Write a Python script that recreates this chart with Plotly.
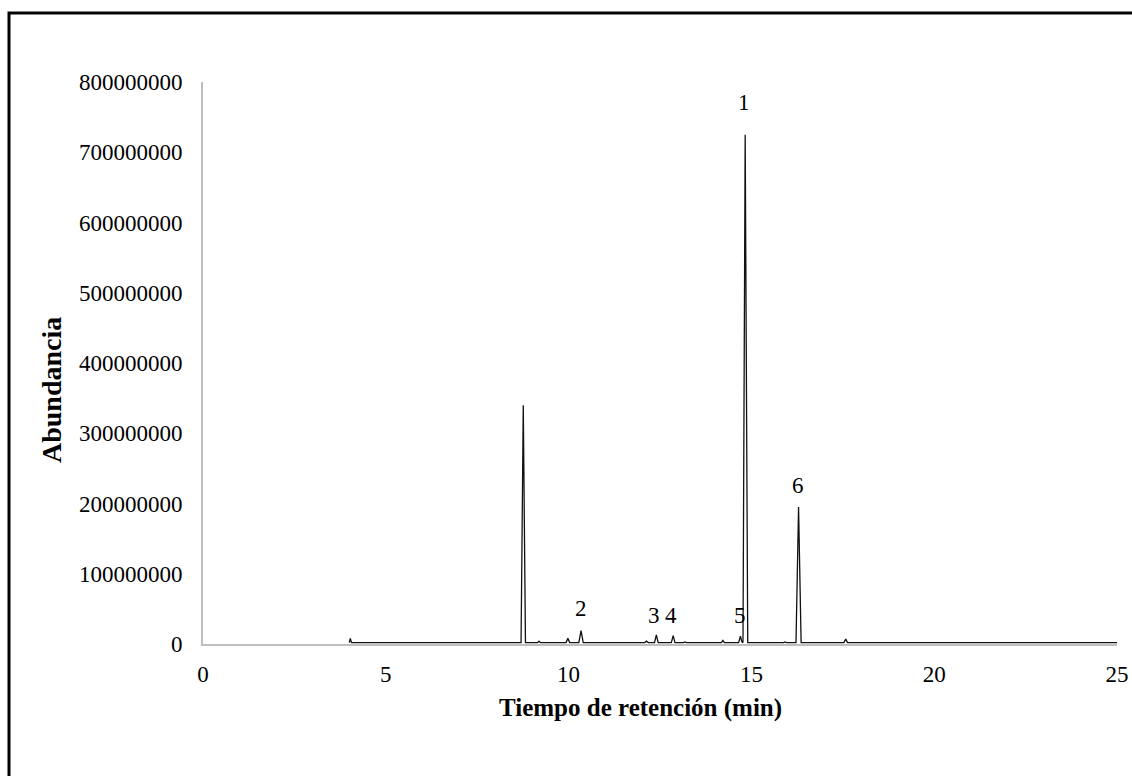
import plotly.graph_objects as go

# Retention time (min) and abundance of the chromatogram trace
tiempo = [4.00, 4.03, 4.06, 4.10, 8.70, 8.76, 8.82, 9.15, 9.19, 9.23,
          9.93, 9.98, 10.03, 10.28, 10.34, 10.40, 12.08, 12.13, 12.18,
          12.35, 12.40, 12.45, 12.81, 12.86, 12.91, 13.14, 13.18, 13.22,
          14.18, 14.22, 14.26, 14.65, 14.70, 14.74, 14.77, 14.83, 14.90,
          15.88, 15.92, 15.96, 16.22, 16.29, 16.36, 17.53, 17.58, 17.63,
          18.30, 18.34, 18.38, 22.35, 22.39, 22.43, 23.13, 23.17, 23.21, 25.00]
abundancia = [2e6, 8e6, 2e6, 2e6, 2e6, 340e6, 2e6, 2e6, 4e6, 2e6,
              2e6, 8e6, 2e6, 2e6, 19e6, 2e6, 2e6, 4e6, 2e6,
              2e6, 13e6, 2e6, 2e6, 12e6, 2e6, 2e6, 3e6, 2e6,
              2e6, 5e6, 2e6, 2e6, 11e6, 3e6, 2e6, 725e6, 2e6,
              2e6, 3e6, 2e6, 2e6, 195e6, 2e6, 2e6, 7e6, 2e6,
              2e6, 3e6, 2e6, 2e6, 3e6, 2e6, 2e6, 3e6, 2e6, 2e6]

# Peak labels
etiquetas = ["1", "2", "3", "4", "5", "6"]
etiqueta_x = [14.80, 10.34, 12.34, 12.80, 14.69, 16.27]
etiqueta_y = [771e6, 50e6, 41e6, 41e6, 41e6, 225e6]

x_ticks = [0, 5, 10, 15, 20, 25]
y_ticks = [0, 100e6, 200e6, 300e6, 400e6, 500e6, 600e6, 700e6, 800e6]

FONT = "Liberation Serif"

fig = go.Figure()
fig.add_trace(go.Scatter(x=tiempo, y=abundancia, mode="lines",
                         line=dict(color="#111111", width=1.3),
                         hoverinfo="skip", showlegend=False))

for t, xx, yy in zip(etiquetas, etiqueta_x, etiqueta_y):
    fig.add_annotation(x=xx, y=yy, text=t, showarrow=False,
                       xanchor="center", yanchor="middle",
                       font=dict(family=FONT, size=23, color="black"))

fig.add_annotation(xref="paper", yref="paper", x=(640 - 203) / 914, y=(644 - 708) / 562,
                   text="<b>Tiempo de retención (min)</b>", showarrow=False,
                   xanchor="center", yanchor="middle",
                   font=dict(family=FONT, size=25, color="black"))
fig.add_annotation(xref="paper", yref="paper", x=(51 - 203) / 914, y=(644 - 390) / 562,
                   text="<b>Abundancia</b>", showarrow=False, textangle=-90,
                   xanchor="center", yanchor="middle",
                   font=dict(family=FONT, size=28, color="black"))

fig.add_shape(type="rect", xref="paper", yref="paper",
              x0=(9 - 203) / 914, x1=1.2, y0=-0.5, y1=(644 - 13) / 562,
              line=dict(color="black", width=3), layer="above")

fig.update_layout(
    width=1132, height=776, autosize=False,
    margin=dict(l=203, r=15, t=82, b=132, autoexpand=False),
    paper_bgcolor="white", plot_bgcolor="white",
    font=dict(family=FONT, size=23, color="black"),
    xaxis=dict(range=[0, 25], tickvals=x_ticks, ticktext=[str(v) for v in x_ticks],
               showgrid=False, zeroline=False, showline=True, linecolor="#bfbfbf",
               linewidth=2, ticks="", ticklabelstandoff=8, automargin=False,
               ticklabeloverflow="allow"),
    yaxis=dict(range=[0, 800e6], tickvals=y_ticks, tickformat="d",
               showgrid=False, zeroline=False, showline=True, linecolor="#bfbfbf",
               linewidth=2, ticks="", ticklabelstandoff=14, automargin=False),
)

fig.write_html("out.html")
